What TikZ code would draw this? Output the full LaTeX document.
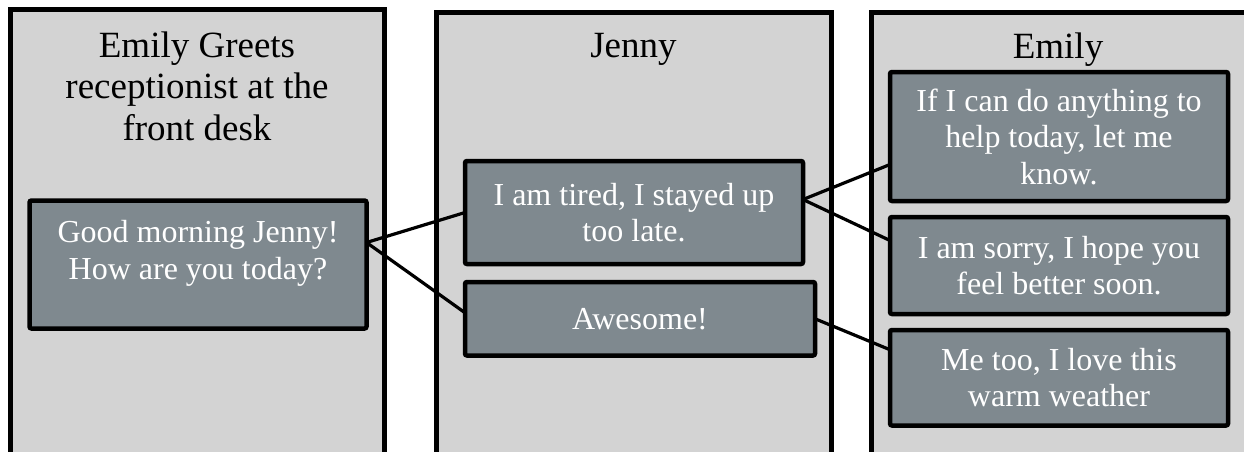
\documentclass[tikz,border=0pt]{standalone}
\usepackage{fontspec}
\setmainfont{Liberation Serif}
\usepackage{tikz}
\usetikzlibrary{positioning,calc}
\definecolor{lanegray}{RGB}{211,211,211}
\definecolor{msgslate}{RGB}{127,137,143}
\tikzset{
  lane/.style={draw=black, line width=5pt, fill=lanegray, outer sep=0pt,
               inner sep=0pt, anchor=north west},
  lanetitle/.style={font=\fontsize{37}{41.5}\selectfont, align=center,
                    inner sep=0pt, anchor=north},
  msg/.style={draw=black, line width=4.5pt, fill=msgslate, rounded corners=2pt,
              outer sep=0pt, inner sep=4pt, anchor=north west, text=white,
              align=center, font=\fontsize{32}{36.5}\selectfont},
  reply/.style={line width=3.2pt, black}
}

\begin{document}
\begin{tikzpicture}[x=1pt,y=-1pt]
\clip (0,0) rectangle (1244,451);
\fill[white] (0,0) rectangle (1244,451);
% lanes
\node[lane, minimum width=374.5, minimum height=480] (lane1) at (10,9) {};
\node[lane, minimum width=395, minimum height=480] (lane2) at (436,12) {};
\node[lane, minimum width=420, minimum height=480] (lane3) at (871,12) {};
\node[lanetitle] (title1) at (197,31.5) {Emily Greets\\receptionist at the\\front desk};
\node[lanetitle] (title2) at (633.5,33.5) {Jenny};
\node[lanetitle] (title3) at (1058,32.7) {Emily};
% messages
\node[msg, minimum width=337, minimum height=128] (gm) at (29.5,200.5)
  {Good morning Jenny!\\How are you today?\\[-7pt]\mbox{}};
\node[msg, minimum width=338, minimum height=103] (tired) at (465,161)
  {I am tired, I stayed up\\too late.};
\node[msg, minimum width=350, minimum height=73.5] (awesome) at (465,282)
  {Awesome!};
\node[msg, minimum width=338, minimum height=129] (ifican) at (890,72)
  {If I can do anything to\\help today, let me\\know.};
\node[msg, minimum width=338, minimum height=97] (sorry) at (890,217)
  {I am sorry, I hope you\\feel better soon.};
\node[msg, minimum width=338, minimum height=95.5] (metoo) at (890,330)
  {Me too, I love this\\warm weather};
% replies
\draw[reply] ([yshift=22pt]gm.east) -- (tired.west);
\draw[reply] ([yshift=22pt]gm.east) -- ([yshift=6pt]awesome.west);
\draw[reply] ([yshift=13pt]tired.east) -- ([yshift=-28pt]ifican.west);
\draw[reply] ([yshift=13pt]tired.east) -- ([yshift=25pt]sorry.west);
\draw[reply] (awesome.east) -- ([yshift=28pt]metoo.west);
\end{tikzpicture}
\end{document}
